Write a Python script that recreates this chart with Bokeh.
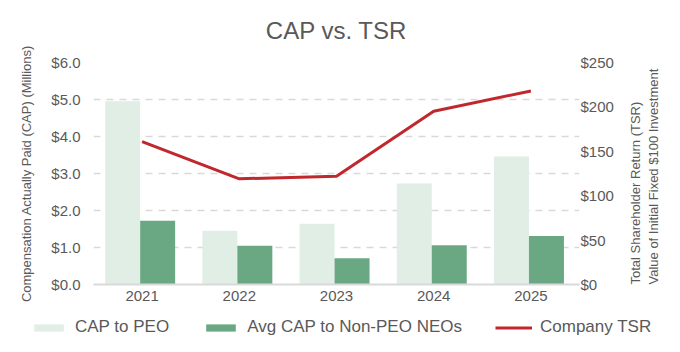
import math
from bokeh.plotting import figure
from bokeh.layouts import column, row
from bokeh.models import (ColumnDataSource, FactorRange, Range1d, LinearAxis,
                          NumeralTickFormatter, SingleIntervalTicker, Legend, LegendItem)
from bokeh.transform import dodge
from bokeh.embed import file_html
from bokeh.resources import INLINE

years = ["2021", "2022", "2023", "2024", "2025"]
cap_peo = [4.95, 1.45, 1.64, 2.73, 3.46]
cap_neo = [1.72, 1.05, 0.71, 1.06, 1.31]
company_tsr = [161, 119, 122, 195, 218]
series_names = ["CAP to PEO", "Avg CAP to Non-PEO NEOs", "Company TSR"]

src = ColumnDataSource(dict(year=years, peo=cap_peo, neo=cap_neo, tsr=company_tsr))

FONT = "Liberation Sans"
GREY = "#595959"
C_PEO, C_NEO, C_TSR = "#E0EEE6", "#6AA883", "#C0282D"

p = figure(x_range=FactorRange(*years, range_padding=0), y_range=Range1d(0, 6),
           width=680, height=310, output_backend="svg", toolbar_location=None,
           min_border_left=93, min_border_right=92, min_border_top=62, min_border_bottom=26,
           title="CAP vs. TSR")
p.outline_line_color = None
p.background_fill_color = "white"
p.border_fill_color = "white"

p.title.align = "center"
p.title.vertical_align = "top"
p.title.text_font = FONT
p.title.text_font_size = "24px"
p.title.text_font_style = "normal"
p.title.text_color = GREY
p.title.standoff = 33

p.extra_y_ranges = {"tsr": Range1d(0, 250)}

p.vbar(x=dodge("year", -0.2, range=p.x_range), top="peo", width=0.36, source=src,
       fill_color=C_PEO, line_color=None)
p.vbar(x=dodge("year", 0.16, range=p.x_range), top="neo", width=0.36, source=src,
       fill_color=C_NEO, line_color=None)
p.line(x="year", y="tsr", source=src, y_range_name="tsr", line_color=C_TSR, line_width=3)

# left axis
ya = p.yaxis[0]
ya.ticker = SingleIntervalTicker(interval=1)
ya.formatter = NumeralTickFormatter(format="$0.0")
ya.axis_label = "Compensation Actually Paid (CAP) (Millions)"

# right axis
ra = LinearAxis(y_range_name="tsr", ticker=SingleIntervalTicker(interval=50),
                formatter=NumeralTickFormatter(format="$0"),
                axis_label="Total Shareholder Return (TSR)\nValue of Initial Fixed $100 Investment")
p.add_layout(ra, "right")

for ax in [ya, ra]:
    ax.axis_line_color = None
    ax.major_tick_line_color = None
    ax.minor_tick_line_color = None
    ax.major_tick_out = 0
    ax.major_label_text_font = FONT
    ax.major_label_text_font_size = "15px"
    ax.major_label_text_color = GREY
    ax.axis_label_text_font = FONT
    ax.axis_label_text_font_size = "13px"
    ax.axis_label_text_font_style = "normal"
    ax.axis_label_text_color = GREY
ya.major_label_standoff = 9
ya.axis_label_standoff = 14
ra.major_label_standoff = -3
ra.axis_label_standoff = 28
ra.axis_label_orientation = math.pi / 2
try:
    ra.axis_label_align = "start"
except Exception:
    pass

xa = p.xaxis[0]
xa.axis_line_color = "#D9D9D9"
xa.axis_line_width = 2
xa.major_tick_line_color = None
xa.major_tick_out = 0
xa.major_label_text_font = FONT
xa.major_label_text_font_size = "15px"
xa.major_label_text_color = GREY
xa.major_label_standoff = 6

p.xgrid.grid_line_color = None
p.ygrid.grid_line_color = "#D9D9D9"
p.ygrid.grid_line_dash = "7 6"
p.ygrid.grid_line_width = 1.5

# legend strip below the chart
lf = figure(width=680, height=42, output_backend="svg", toolbar_location=None,
            x_range=Range1d(0, 1), y_range=Range1d(0, 1),
            x_axis_location=None, y_axis_location=None,
            min_border=0, min_border_left=0, min_border_right=0,
            min_border_top=0, min_border_bottom=0)
lf.grid.visible = False
lf.outline_line_color = None
lf.border_fill_color = "white"
dummy = ColumnDataSource(dict(x=[-10], y=[-10]))
l1 = lf.vbar(x="x", top="y", width=0.1, source=dummy, fill_color=C_PEO, line_color=None)
l2 = lf.vbar(x="x", top="y", width=0.1, source=dummy, fill_color=C_NEO, line_color=None)
l3 = lf.line(x="x", y="y", source=dummy, line_color=C_TSR, line_width=3)

legend = Legend(items=[LegendItem(label=series_names[0], renderers=[l1]),
                       LegendItem(label=series_names[1], renderers=[l2]),
                       LegendItem(label=series_names[2], renderers=[l3])],
                orientation="horizontal", location=(30, 15),
                glyph_width=37, glyph_height=9, label_standoff=8, spacing=33,
                padding=0, margin=0, border_line_color=None, background_fill_alpha=0,
                label_text_font=FONT, label_text_font_size="17px", label_text_color=GREY)
lf.add_layout(legend, "center")

layout = column(p, row(lf), spacing=0)
open("out.html", "w").write(file_html(layout, INLINE))
